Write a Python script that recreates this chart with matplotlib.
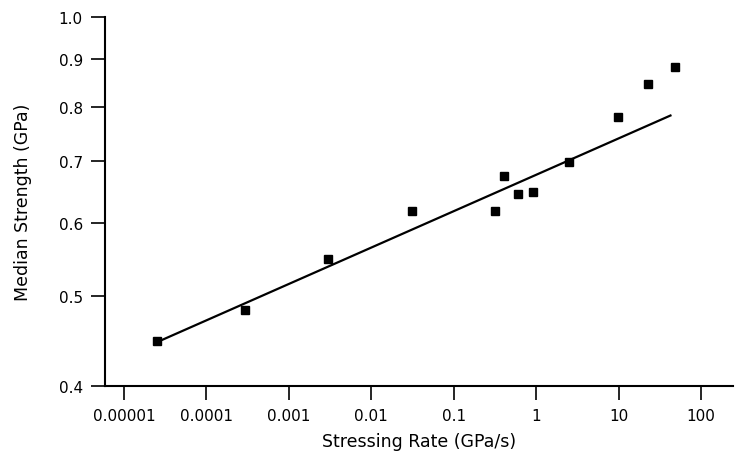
import numpy as np
import matplotlib.pyplot as plt
from matplotlib.ticker import FixedLocator, FixedFormatter, NullLocator

# measured points: stressing rate (GPa/s) vs median strength (GPa)
rate = [2.5e-5, 2.9e-4, 3.0e-3, 0.031, 0.32, 0.41, 0.60, 0.92, 2.5, 9.8, 22.5, 48]
strength = [0.447, 0.483, 0.548, 0.617, 0.617, 0.674, 0.645, 0.648, 0.697, 0.780, 0.846, 0.883]

# fitted power-law line (end points)
fit_rate = [2.66e-5, 42.6]
fit_strength = [0.447, 0.783]

x_ticks = [1e-5, 1e-4, 1e-3, 1e-2, 1e-1, 1, 10, 100]
x_labels = ["0.00001", "0.0001", "0.001", "0.01", "0.1", "1", "10", "100"]
y_ticks = [0.4, 0.5, 0.6, 0.7, 0.8, 0.9, 1.0]
y_labels = ["0.4", "0.5", "0.6", "0.7", "0.8", "0.9", "1.0"]

plt.rcParams['font.family'] = ['DejaVu Sans']

fig = plt.figure(figsize=(7.35, 4.6), dpi=100)
ax = fig.add_axes([105 / 735, 1 - 387 / 460, (733 - 105) / 735, (387 - 18) / 460])

ax.plot(fit_rate, fit_strength, color='black', linewidth=1.6)
ax.plot(rate, strength, 's', color='black', markersize=5.8)

ax.set_xscale('log')
ax.set_yscale('log')
ax.set_xlim(10 ** -5.2305, 10 ** 2.388)
ax.set_ylim(0.4, 1.0)

ax.xaxis.set_major_locator(FixedLocator(x_ticks))
ax.xaxis.set_major_formatter(FixedFormatter(x_labels))
ax.xaxis.set_minor_locator(NullLocator())
ax.yaxis.set_major_locator(FixedLocator(y_ticks))
ax.yaxis.set_major_formatter(FixedFormatter(y_labels))
ax.yaxis.set_minor_locator(NullLocator())

ax.spines['top'].set_visible(False)
ax.spines['right'].set_visible(False)
ax.spines['left'].set_linewidth(1.5)
ax.spines['bottom'].set_linewidth(1.5)
ax.tick_params(axis='both', which='major', direction='out', length=10, width=1.2,
               labelsize=11, pad=6, colors='black')

ax.set_xlabel("Stressing Rate (GPa/s)", fontsize=12.5, labelpad=6)
ax.set_ylabel("Median Strength (GPa)", fontsize=12.5, labelpad=19)

fig.savefig("out.png", dpi=100)
